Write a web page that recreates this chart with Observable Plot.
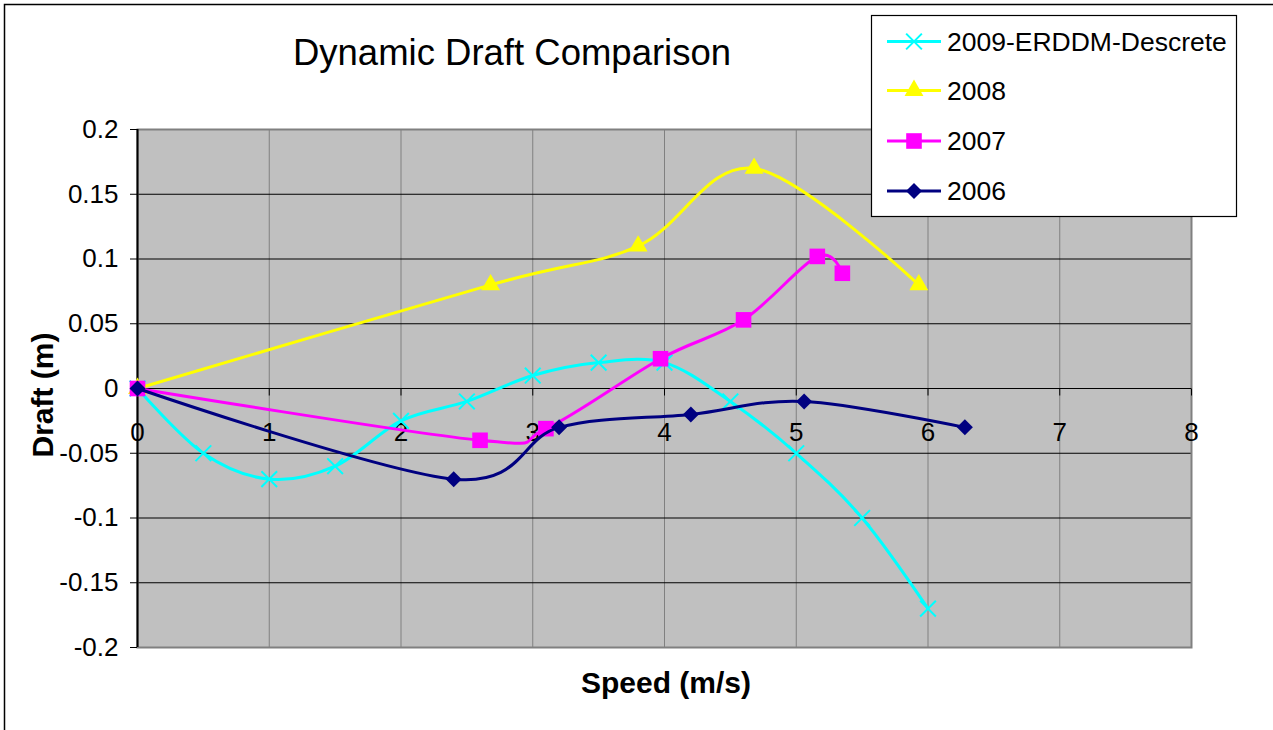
<!DOCTYPE html>
<html><head><meta charset="utf-8">
<script src="https://cdn.jsdelivr.net/npm/d3@7"></script>
<script src="https://cdn.jsdelivr.net/npm/@observablehq/plot@0.6"></script>
<style>html,body{margin:0;padding:0;background:#fff;overflow:hidden;}</style>
</head><body><div id="chart"></div>
<script>
// ---- data ----
const seriesNames = ["2009-ERDDM-Descrete", "2008", "2007", "2006"];
const seriesColors = ["#00ffff", "#ffff00", "#ff00ff", "#000080"];
const seriesSymbols = ["times", "triangle", "square", "diamond2"];

const speed2009 = [0, 0.5, 1, 1.5, 2, 2.5, 3, 3.5, 4, 4.5, 5, 5.5, 6];
const draft2009 = [0, -0.05, -0.07, -0.06, -0.025, -0.01, 0.01, 0.02, 0.02, -0.01, -0.05, -0.1, -0.17];
const speed2008 = [0, 2.68, 3.8, 4.68, 5.93];
const draft2008 = [0, 0.08, 0.11, 0.17, 0.08];
const speed2007 = [0, 2.6, 3.1, 3.97, 4.6, 5.16, 5.35];
const draft2007 = [0, -0.04, -0.031, 0.023, 0.053, 0.102, 0.089];
const speed2006 = [0, 2.4, 3.2, 4.2, 5.06, 6.28];
const draft2006 = [0, -0.07, -0.03, -0.02, -0.01, -0.03];

const xTicks = [0, 1, 2, 3, 4, 5, 6, 7, 8];
const yTicks = [-0.2, -0.15, -0.1, -0.05, 0, 0.05, 0.1, 0.15, 0.2];

const title = "Dynamic Draft Comparison";
const xLabel = "Speed (m/s)";
const yLabel = "Draft (m)";

// ---- build table ----
const speeds = [speed2009, speed2008, speed2007, speed2006];
const drafts = [draft2009, draft2008, draft2007, draft2006];
const rows = seriesNames.map((name, k) => speeds[k].map((s, i) => ({series: name, speed: s, draft: drafts[k][i]})));

const FONT = "'Liberation Sans', Arial, Helvetica, sans-serif";
const W = 1273, H = 730;
const symbolR = {times: 7.2, triangle: 7, square: 8.8, diamond2: 7.2};

const tickDown = {draw(ctx) { ctx.moveTo(0, 0); ctx.lineTo(0, 7); }};

const marks = [
  Plot.frame({fill: "#c0c0c0", stroke: null}),
  Plot.gridX(xTicks, {stroke: "#808080", strokeOpacity: 1, strokeWidth: 1}),
  Plot.gridY(yTicks, {stroke: "#000000", strokeOpacity: 1, strokeWidth: 1}),
  Plot.frame({stroke: "#808080", strokeWidth: 2, fill: null}),
  Plot.ruleX([0], {stroke: "#000", strokeWidth: 2}),
  Plot.ruleY([0], {stroke: "#000", strokeWidth: 1}),
  Plot.dot(xTicks, {x: d => d, y: () => 0, symbol: tickDown, r: 3, stroke: "#000", strokeWidth: 1, fill: "none"}),
  Plot.text(xTicks, {x: d => d, y: () => 0, text: d => String(d), dy: 44, fontSize: 26, fill: "#000"}),
  Plot.axisY(yTicks, {tickSize: 7, tickPadding: 12, fontSize: 26, tickFormat: d => String(d), label: null, color: "#000"})
];

rows.forEach((data, k) => {
  marks.push(Plot.line(data, {x: "speed", y: "draft", stroke: seriesColors[k], strokeWidth: 3, curve: "cardinal", tension: 0}));
  const sym = seriesSymbols[k];
  if (sym === "times") {
    marks.push(Plot.dot(data, {x: "speed", y: "draft", symbol: sym, r: symbolR[sym], stroke: seriesColors[k], strokeWidth: 2}));
  } else {
    marks.push(Plot.dot(data, {x: "speed", y: "draft", symbol: sym, r: symbolR[sym], fill: seriesColors[k], stroke: "none"}));
  }
});

const chart = Plot.plot({
  width: W, height: H,
  marginLeft: 137, marginRight: 82, marginTop: 129, marginBottom: 83,
  style: {fontFamily: FONT, background: "#fff", color: "#000", overflow: "visible"},
  x: {domain: [0, 8], axis: null},
  y: {domain: [-0.2, 0.2], axis: null},
  marks
});
document.getElementById("chart").appendChild(chart);

// ---- decorations: outer border, title, axis labels, legend ----
const svg = d3.select(chart);
svg.append("rect").attr("x", 4.5).attr("y", 4.5).attr("width", W + 10).attr("height", H + 10)
  .attr("fill", "none").attr("stroke", "#000").attr("stroke-width", 1.5);
svg.append("text").attr("x", 512).attr("y", 52).attr("dy", "0.35em").attr("text-anchor", "middle")
  .attr("font-family", FONT).attr("font-size", 36.5).attr("fill", "#000").text(title);
svg.append("text").attr("x", 666).attr("y", 682).attr("dy", "0.35em").attr("text-anchor", "middle")
  .attr("font-family", FONT).attr("font-weight", "bold").attr("font-size", 30).attr("fill", "#000").text(xLabel);
svg.append("text").attr("transform", "translate(42,395) rotate(-90)").attr("dy", "0.35em").attr("text-anchor", "middle")
  .attr("font-family", FONT).attr("font-weight", "bold").attr("font-size", 30).attr("fill", "#000").text(yLabel);

const lg = svg.append("g");
lg.append("rect").attr("x", 871.5).attr("y", 15.5).attr("width", 365).attr("height", 201)
  .attr("fill", "#fff").attr("stroke", "#000").attr("stroke-width", 1.2);
const legendY = [41.5, 90.5, 141, 191];
const d3Symbols = {times: d3.symbolTimes, triangle: d3.symbolTriangle, square: d3.symbolSquare, diamond2: d3.symbolDiamond2};
seriesNames.forEach((name, k) => {
  const y = legendY[k];
  lg.append("line").attr("x1", 887).attr("x2", 941).attr("y1", y).attr("y2", y)
    .attr("stroke", seriesColors[k]).attr("stroke-width", 3);
  const sym = seriesSymbols[k];
  const r = symbolR[sym];
  const p = d3.symbol(d3Symbols[sym], Math.PI * r * r)();
  const path = lg.append("path").attr("d", p).attr("transform", `translate(914,${y})`);
  if (sym === "times") path.attr("fill", "none").attr("stroke", seriesColors[k]).attr("stroke-width", 2);
  else path.attr("fill", seriesColors[k]).attr("stroke", "none");
  lg.append("text").attr("x", 947).attr("y", y).attr("dy", "0.35em").attr("text-anchor", "start")
    .attr("font-family", FONT).attr("font-size", 26.5).attr("fill", "#000").text(name);
});
</script>
</body></html>
